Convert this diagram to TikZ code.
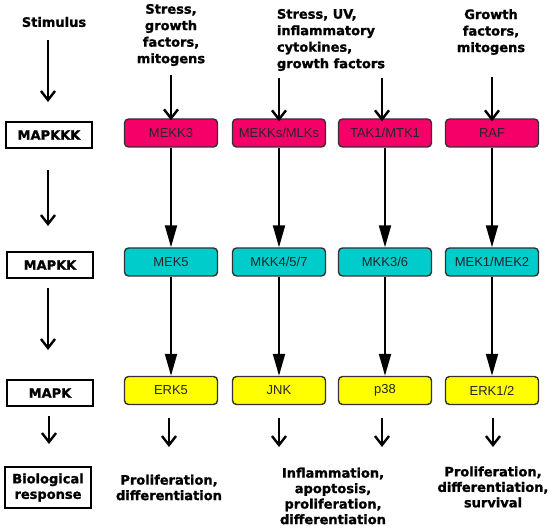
\documentclass[tikz,border=0pt]{standalone}
\usepackage{fontspec}
\setmainfont{Liberation Sans}
\newfontfamily\hdfont{DejaVu Sans Bold}[FakeBold=1.2]
\usetikzlibrary{arrows.meta}
\definecolor{kkk}{RGB}{245,0,104}
\definecolor{kk}{RGB}{0,204,204}
\definecolor{kyel}{RGB}{255,255,0}
\definecolor{bord}{RGB}{50,50,50}
\begin{document}
\begin{tikzpicture}[x=1pt,y=-1pt,
  kbox/.style={draw=bord,line width=1.4pt,rounded corners=4pt,minimum width=93pt,minimum height=28pt,inner sep=0pt,font=\fontsize{13}{15}\selectfont,text=black!85},
  lbox/.style={draw=black,line width=2.2pt,minimum width=86pt,inner sep=0pt,align=center,font=\hdfont\fontsize{13}{15.5}\selectfont},
  lab/.style={align=center,font=\hdfont\fontsize{13}{16.5}\selectfont,inner sep=0pt},
  blab/.style={align=center,font=\hdfont\fontsize{13}{15.5}\selectfont,inner sep=0pt},
  barb/.style={line width=2.4pt,-{Straight Barb[length=9pt,width=14pt,line width=2.4pt]}},
  tri/.style={line width=2pt,-{Triangle[length=22pt,width=12pt]}}
]
\useasboundingbox (0,0) rectangle (550,529);
% left column
\node[lab] (stim) at (54,22) {Stimulus};
\node[lbox,minimum height=26pt] (mkkk) at (49,135) {MAPKKK};
\node[lbox,minimum height=26pt] (mkk) at (50,265) {MAPKK};
\node[lbox,minimum height=26pt] (mk) at (50,393) {MAPK};
\node[lbox,minimum height=41pt] (bio) at (48,487.5) {Biological\\response};
\draw[barb] (48,40) -- (48,102);
\draw[barb] (48,170) -- (48,226);
\draw[barb] (48,288) -- (48,350);
\draw[barb] (49,416) -- (49,444);
% stimuli
\node[lab] (s1) at (171,35) {Stress,\\growth\\factors,\\mitogens};
\node[lab,align=left] (s2) at (331,40) {Stress, UV,\\inflammatory\\cytokines,\\growth factors};
\node[lab] (s3) at (491,32) {Growth\\factors,\\mitogens};
% boxes
\node[kbox,fill=kkk] (a1) at (171,133) {MEKK3};
\node[kbox,fill=kkk] (a2) at (279,133) {MEKKs/MLKs};
\node[kbox,fill=kkk] (a3) at (385,133) {TAK1/MTK1};
\node[kbox,fill=kkk] (a4) at (492,133) {RAF};
\node[kbox,fill=kk] (b1) at (171,262) {MEK5};
\node[kbox,fill=kk] (b2) at (279,262) {MKK4/5/7};
\node[kbox,fill=kk] (b3) at (385,262) {MKK3/6};
\node[kbox,fill=kk] (b4) at (492,262) {MEK1/MEK2};
\node[kbox,fill=kyel] (c1) at (171,390.5) {ERK5};
\node[kbox,fill=kyel] (c2) at (279,390.5) {JNK};
\node[kbox,fill=kyel] (c3) at (385,390.5) {p38};
\node[kbox,fill=kyel] (c4) at (492,390.5) {ERK1/2};
% stimulus arrows
\coordinate (t1) at (171,75);
\coordinate (t2) at (279,78);
\coordinate (t3) at (382,78);
\coordinate (t4) at (492,77);
\draw[barb] (t1) -- ([yshift=-2pt]a1.north);
\draw[barb] (t2) -- ([yshift=-3pt]a2.north);
\draw[barb] (t3) -- ([xshift=-3pt,yshift=-3pt]a3.north);
\draw[barb] (t4) -- ([yshift=-3pt]a4.north);
% cascade arrows
\foreach \i in {1,2,3,4}{
  \draw[tri] (a\i.south) -- (b\i.north);
  \draw[tri] (b\i.south) -- (c\i.north);
}
% response arrows
\coordinate (r1) at (169,447);
\coordinate (r2) at (279,447);
\coordinate (r3) at (382,447);
\coordinate (r4) at (493,447);
\draw[barb] ([xshift=-2pt]c1.south)++(0,13) -- (r1);
\draw[barb] (c2.south)++(0,13) -- (r2);
\draw[barb] ([xshift=-3pt]c3.south)++(0,13) -- (r3);
\draw[barb] ([xshift=1pt]c4.south)++(0,13) -- (r4);
% responses
\node[blab] (p1) at (169,487.5) {Proliferation,\\differentiation};
\node[blab] (p2) at (333,496) {Inflammation,\\apoptosis,\\proliferation,\\differentiation};
\node[blab] (p3) at (493,487) {Proliferation,\\differentiation,\\survival};
\end{tikzpicture}
\end{document}
